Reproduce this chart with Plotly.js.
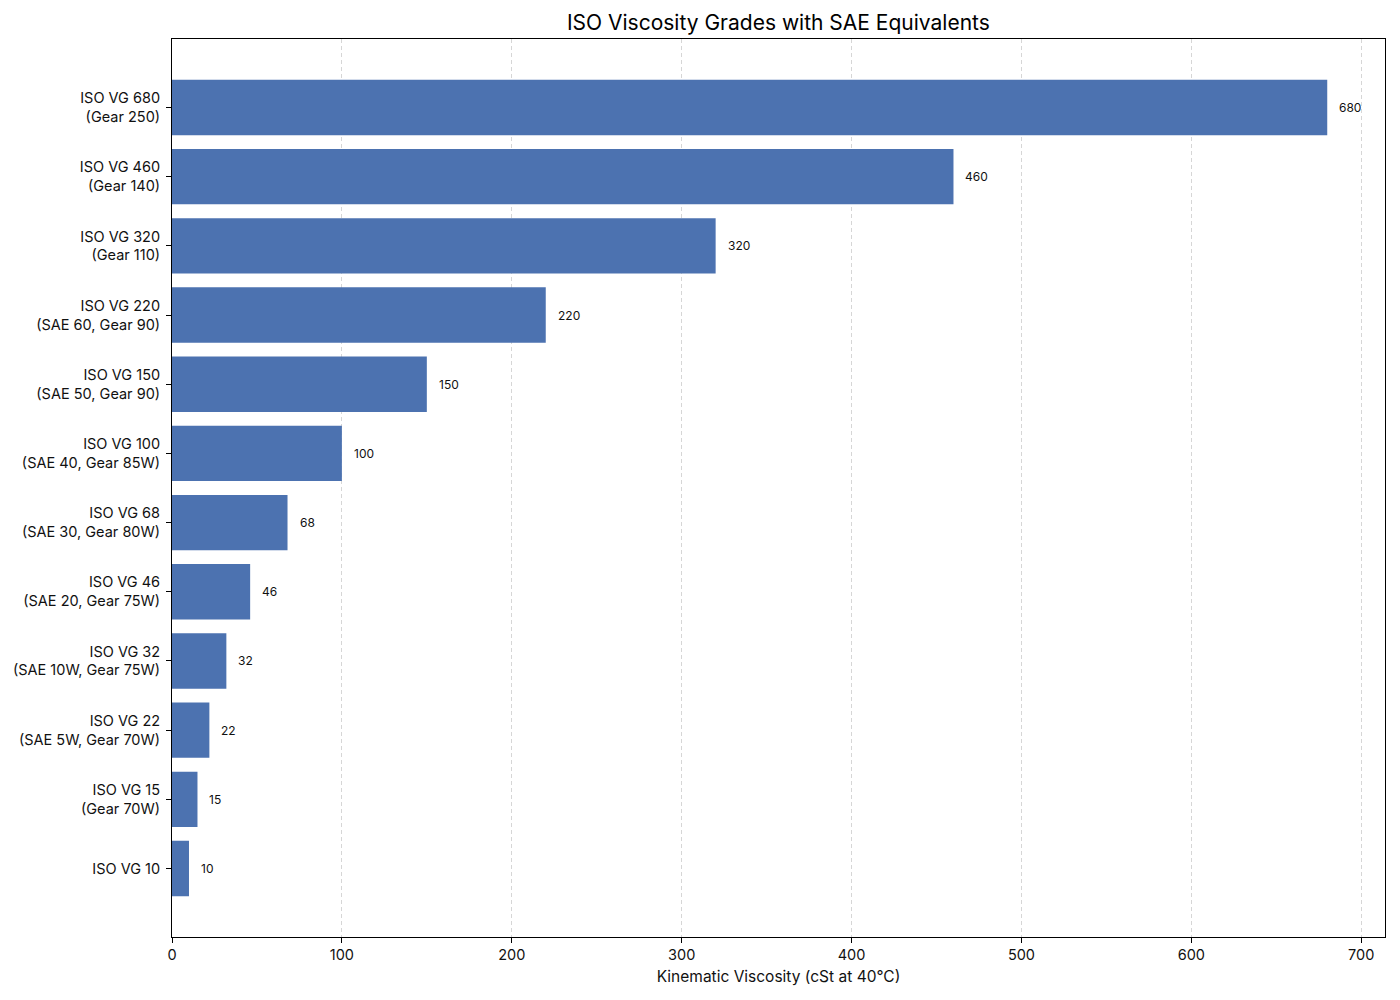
<!DOCTYPE html>
<html>
<head>
<meta charset="utf-8">
<script src="https://cdn.plot.ly/plotly-3.0.1.min.js"></script>
<style>body{margin:0;background:#fff}#chart{width:1400px;height:1000px}</style>
</head>
<body>
<div id="chart"></div>
<script>
// grades from low to high (plotted bottom to top)
const grades = [
  "ISO VG 10",
  "ISO VG 15<br>(Gear 70W)",
  "ISO VG 22<br>(SAE 5W, Gear 70W)",
  "ISO VG 32<br>(SAE 10W, Gear 75W)",
  "ISO VG 46<br>(SAE 20, Gear 75W)",
  "ISO VG 68<br>(SAE 30, Gear 80W)",
  "ISO VG 100<br>(SAE 40, Gear 85W)",
  "ISO VG 150<br>(SAE 50, Gear 90)",
  "ISO VG 220<br>(SAE 60, Gear 90)",
  "ISO VG 320<br>(Gear 110)",
  "ISO VG 460<br>(Gear 140)",
  "ISO VG 680<br>(Gear 250)"
];
const viscosity = [10, 15, 22, 32, 46, 68, 100, 150, 220, 320, 460, 680];

const font = "Inter, 'DejaVu Sans', sans-serif";

const labels = viscosity.map((v, i) => ({
  x: v, y: i, xref: 'x', yref: 'y',
  text: String(v), showarrow: false,
  xanchor: 'left', yanchor: 'middle', xshift: 10,
  font: { size: 12, color: '#111', family: font }
}));

Plotly.newPlot('chart', [{
  type: 'bar',
  orientation: 'h',
  x: viscosity,
  y: grades.map((g, i) => i),
  width: 0.8,
  marker: { color: '#4C72B0' },
  hoverinfo: 'x'
}], {
  width: 1400, height: 1000,
  margin: { l: 172, r: 15, t: 39, b: 63 },
  paper_bgcolor: '#fff', plot_bgcolor: '#fff',
  showlegend: false,
  font: { family: font, color: '#111', size: 14 },
  title: { text: 'ISO Viscosity Grades with SAE Equivalents', x: 0.556, xanchor: 'center', y: 0.977, yanchor: 'middle', font: { size: 21, color: '#000' } },
  xaxis: {
    range: [0, 714],
    tickvals: [0, 100, 200, 300, 400, 500, 600, 700],
    showgrid: true, gridcolor: '#d6d6d6', griddash: '4px,3px', gridwidth: 1,
    zeroline: false,
    showline: true, linecolor: '#000', linewidth: 1, mirror: true,
    ticks: 'outside', ticklen: 5, tickcolor: '#000',
    tickfont: { size: 14.5 },
    title: { text: 'Kinematic Viscosity (cSt at 40°C)', font: { size: 15.5 }, standoff: 8 }
  },
  yaxis: {
    range: [-0.99, 11.99],
    tickvals: grades.map((g, i) => i),
    ticktext: grades,
    showgrid: false, zeroline: false,
    showline: true, linecolor: '#000', linewidth: 1, mirror: true,
    ticks: 'outside', ticklen: 5, tickcolor: '#000',
    ticklabelstandoff: 3,
    tickfont: { size: 14.5 }
  },
  annotations: labels
}, { staticPlot: true });
</script>
</body>
</html>
